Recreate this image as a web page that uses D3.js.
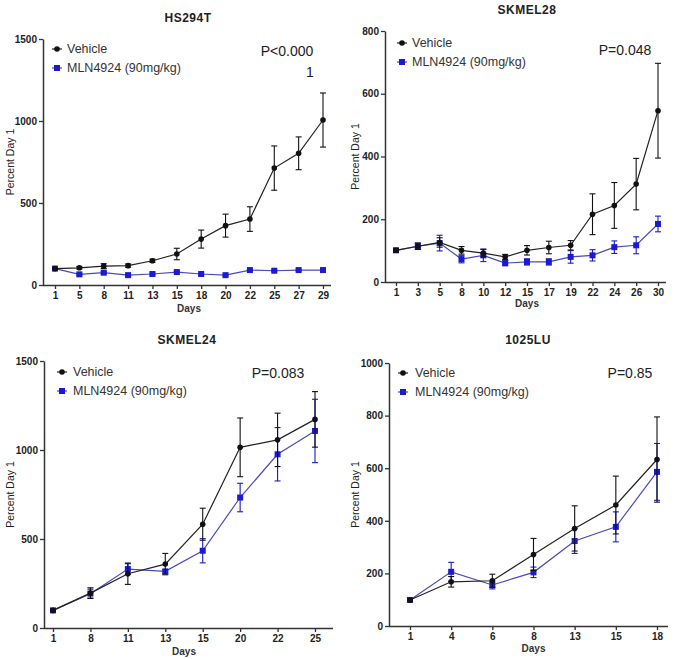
<!DOCTYPE html>
<html><head><meta charset="utf-8">
<script src="https://cdn.jsdelivr.net/npm/d3@7/dist/d3.min.js"></script>
<style>body{margin:0;background:#fff}svg{display:block}text{font-family:"Liberation Sans",Arial,sans-serif}</style>
</head><body><svg id="c" width="680" height="659"></svg>
<script>
// ---- Data ----
const hsDays = [1,5,8,11,13,15,18,20,22,25,27,29];
const hsVehicle = [100,105,115,118,148,189,280,362,402,713,803,1006];
const hsVehicleErr = [5,8,15,10,10,35,55,70,75,135,100,165];
const hsMln = [100,65,75,60,67,79,67,60,91,87,91,91];
const hsMlnErr = [4,6,6,5,5,5,5,5,5,5,5,5];

const s28Days = [1,3,5,8,10,12,15,17,19,22,24,26,30];
const s28Vehicle = [101,114,126,101,92,80,101,110,117,216,244,312,546];
const s28VehicleErr = [6,10,15,12,12,8,15,20,15,65,73,82,151];
const s28Mln = [101,114,124,73,85,60,64,64,80,85,111,117,185];
const s28MlnErr = [6,10,25,12,20,8,10,10,20,18,20,27,25];

const s24Days = [1,8,11,13,15,20,22,25];
const s24Vehicle = [99,196,305,359,583,1015,1057,1172];
const s24VehicleErr = [5,30,60,60,90,165,150,156];
const s24Mln = [99,193,331,318,434,733,976,1107];
const s24MlnErr = [5,25,30,10,68,80,150,178];

const luDays = [1,4,6,8,13,15,18];
const luVehicle = [99,168,172,272,371,460,633];
const luVehicleErr = [4,20,25,61,86,110,162];
const luMln = [99,206,156,204,323,377,586];
const luMlnErr = [4,36,15,20,47,57,108];

const yTicks1500 = [0,500,1000,1500];
const yTicks800 = [0,200,400,600,800];
const yTicks1000 = [0,200,400,600,800,1000];

const seriesNames = ["Vehicle","MLN4924 (90mg/kg)"];
const blackCol = "#111";
const blueCol = "#1a1ad0";
const blueLine = "#4a4ab8";

const panels = [
  {title:"HS294T", days:hsDays, v:hsVehicle, ve:hsVehicleErr, m:hsMln, me:hsMlnErr, yMax:1500, ticks:yTicks1500,
   ax:43, yTop:39, yBot:285, x0:55, x1:323, xEnd:331, tx:188, ty:22,
   lg:{mx:57, tx:67, y1:49, y2:68}, p:["P<0.000","1"], px:287, py:56, p2x:310, p2y:77, ylx:10, daysY:312},
  {title:"SKMEL28", days:s28Days, v:s28Vehicle, ve:s28VehicleErr, m:s28Mln, me:s28MlnErr, yMax:800, ticks:yTicks800,
   ax:385, yTop:31, yBot:282, x0:396, x1:658, xEnd:666, tx:527, ty:14,
   lg:{mx:402, tx:412, y1:43, y2:62}, p:["P=0.048"], px:625, py:55, ylx:355, daysY:307},
  {title:"SKMEL24", days:s24Days, v:s24Vehicle, ve:s24VehicleErr, m:s24Mln, me:s24MlnErr, yMax:1500, ticks:yTicks1500,
   ax:44, yTop:361, yBot:628, x0:53, x1:315, xEnd:333, tx:187, ty:344,
   lg:{mx:62, tx:73, y1:372, y2:391}, p:["P=0.083"], px:278, py:378, ylx:10, daysY:655},
  {title:"1025LU", days:luDays, v:luVehicle, ve:luVehicleErr, m:luMln, me:luMlnErr, yMax:1000, ticks:yTicks1000,
   ax:389, yTop:363, yBot:626, x0:410, x1:657, xEnd:668, tx:528, ty:344,
   lg:{mx:403, tx:415, y1:373, y2:392}, p:["P=0.85"], px:630, py:378, ylx:355, daysY:652}
];

const svg = d3.select("#c");

panels.forEach(P => {
  const g = svg.append("g");
  const x = d3.scalePoint().domain(P.days).range([P.x0, P.x1]);
  const y = d3.scaleLinear().domain([0, P.yMax]).range([P.yBot, P.yTop]);

  // axes
  const yAx = g.append("g").attr("transform", `translate(${P.ax},0)`)
    .call(d3.axisLeft(y).tickValues(P.ticks).tickFormat(d3.format("d")).tickSize(4).tickPadding(2).tickSizeOuter(0));
  yAx.select(".domain").attr("stroke", "#333").attr("stroke-width", 1.5);
  yAx.selectAll(".tick line").attr("stroke", "#333").attr("stroke-width", 1.3);
  yAx.selectAll(".tick text").attr("font-size", 10).attr("font-weight", "bold").attr("fill", "#222")
     .attr("font-family", "Liberation Sans, Arial, sans-serif");

  const xAx = g.append("g").attr("transform", `translate(0,${P.yBot})`)
    .call(d3.axisBottom(x).tickSize(4).tickPadding(3).tickSizeOuter(0));
  xAx.select(".domain").attr("d", `M${P.ax},0.5H${P.xEnd}`).attr("stroke", "#333").attr("stroke-width", 1.5);
  xAx.selectAll(".tick line").attr("stroke", "#333").attr("stroke-width", 1.3);
  xAx.selectAll(".tick text").attr("font-size", 10).attr("font-weight", "bold").attr("fill", "#222")
     .attr("font-family", "Liberation Sans, Arial, sans-serif");

  // titles / labels
  g.append("text").attr("x", P.tx).attr("y", P.ty).attr("text-anchor", "middle")
    .attr("font-size", 12).attr("font-weight", "bold").attr("fill", "#222").attr("letter-spacing", 0.5).text(P.title);
  g.append("text").attr("transform", `translate(${P.ylx},${(P.yTop+P.yBot)/2}) rotate(-90)`)
    .attr("text-anchor", "middle").attr("dy", "0.35em").attr("font-size", 10.5).attr("fill", "#222").text("Percent Day 1");
  g.append("text").attr("x", (P.x0+P.x1)/2).attr("y", P.daysY).attr("text-anchor", "middle")
    .attr("font-size", 10).attr("font-weight", "bold").attr("fill", "#333").text("Days");

  // series
  const series = [
    {vals:P.m, err:P.me, col:blueCol, lc:blueLine, sq:true},
    {vals:P.v, err:P.ve, col:blackCol, lc:"#222", sq:false}
  ];
  series.forEach(S => {
    const pts = P.days.map((d,i) => ({d, v:S.vals[i], e:S.err[i]}));
    g.append("path").datum(pts)
      .attr("d", d3.line().x(p => x(p.d)).y(p => y(p.v)))
      .attr("fill", "none").attr("stroke", S.lc).attr("stroke-width", 1.2);
    const eb = g.append("g").attr("stroke", S.col).attr("stroke-width", 1.1);
    pts.forEach(p => {
      const cx = x(p.d), y1 = y(p.v + p.e), y2 = y(p.v - p.e);
      eb.append("line").attr("x1", cx).attr("x2", cx).attr("y1", y1).attr("y2", y2);
      eb.append("line").attr("x1", cx-3).attr("x2", cx+3).attr("y1", y1).attr("y2", y1);
      eb.append("line").attr("x1", cx-3).attr("x2", cx+3).attr("y1", y2).attr("y2", y2);
    });
    pts.forEach(p => {
      if (S.sq) g.append("rect").attr("x", x(p.d)-3).attr("y", y(p.v)-3).attr("width", 6).attr("height", 6).attr("fill", S.col);
      else g.append("circle").attr("cx", x(p.d)).attr("cy", y(p.v)).attr("r", 2.8).attr("fill", S.col);
    });
  });

  // legend
  const L = P.lg;
  g.append("line").attr("x1", L.mx-5).attr("x2", L.mx+5).attr("y1", L.y1).attr("y2", L.y1).attr("stroke", "#222").attr("stroke-width", 1.2);
  g.append("circle").attr("cx", L.mx).attr("cy", L.y1).attr("r", 2.8).attr("fill", blackCol);
  g.append("text").attr("x", L.tx).attr("y", L.y1).attr("dy", "0.35em").attr("font-size", 12.5).attr("fill", "#333").text(seriesNames[0]);
  g.append("line").attr("x1", L.mx-5).attr("x2", L.mx+5).attr("y1", L.y2).attr("y2", L.y2).attr("stroke", blueLine).attr("stroke-width", 1.2);
  g.append("rect").attr("x", L.mx-3).attr("y", L.y2-3).attr("width", 6).attr("height", 6).attr("fill", blueCol);
  g.append("text").attr("x", L.tx).attr("y", L.y2).attr("dy", "0.35em").attr("font-size", 12.5).attr("fill", "#333").text(seriesNames[1]);

  // p-value
  g.append("text").attr("x", P.px).attr("y", P.py).attr("text-anchor", "middle").attr("font-size", 14).attr("fill", "#222").text(P.p[0]);
  if (P.p.length > 1)
    g.append("text").attr("x", P.p2x).attr("y", P.p2y).attr("text-anchor", "middle").attr("font-size", 14).attr("fill", "#222").text(P.p[1]);
});
</script></body></html>
